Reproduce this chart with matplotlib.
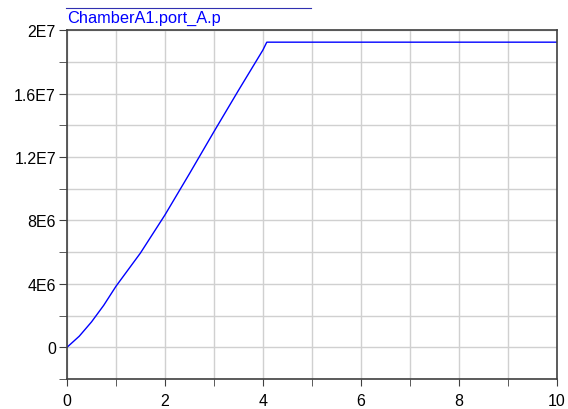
import numpy as np
import matplotlib
matplotlib.use("Agg")
import matplotlib.pyplot as plt
from matplotlib.lines import Line2D

plt.rcParams['font.family'] = ['Liberation Sans', 'DejaVu Sans']

# values
time = [0, 0.25, 0.5, 0.75, 1.0, 1.25, 1.5, 1.75, 2.0, 2.5, 3.0, 3.5, 4.0, 4.08, 10.0]
pressure = [0, 0.7e6, 1.6e6, 2.65e6, 3.85e6, 4.9e6, 5.95e6, 7.15e6, 8.35e6,
            10.95e6, 13.6e6, 16.2e6, 18.75e6, 19.25e6, 19.25e6]
label = "ChamberA1.port_A.p"

xticks = [0, 2, 4, 6, 8, 10]
yticks = [0, 4e6, 8e6, 1.2e7, 1.6e7, 2e7]
ytick_labels = ["0", "4E6", "8E6", "1.2E7", "1.6E7", "2E7"]

fig = plt.figure(figsize=(5.68, 4.10), dpi=100)
ax = fig.add_axes([0.118, 0.0732, 0.862, 0.8505])

ax.plot(time, pressure, color="#0000ff", lw=1.0)

ax.set_xlim(0, 10)
ax.set_ylim(-2e6, 2e7)
ax.set_xticks(xticks)
ax.set_xticks(np.arange(0, 11, 1), minor=True)
ax.set_yticks(yticks)
ax.set_yticklabels(ytick_labels)
ax.set_yticks(np.arange(-2e6, 2.1e7, 2e6), minor=True)

ax.grid(True, which="both", color="#d0d0d0", lw=1.0)
ax.set_axisbelow(True)

for s in ax.spines.values():
    s.set_color("#404040")
    s.set_linewidth(1.2)

ax.tick_params(axis="both", which="both", direction="out", color="#404040",
               labelsize=11.5, labelcolor="black")
ax.tick_params(axis="y", which="both", length=6, pad=2)
ax.tick_params(axis="x", which="both", length=5, pad=5)

# legend above the plot
fig.add_artist(Line2D([66 / 568, 311 / 568], [1 - 9.3 / 410, 1 - 9.3 / 410],
                      color="#3030b0", lw=0.8))
fig.text(67 / 568, 1 - 18.5 / 410, label, color="#0000ff", fontsize=11.8,
         va="center", ha="left")

fig.savefig("out.png", dpi=100)
